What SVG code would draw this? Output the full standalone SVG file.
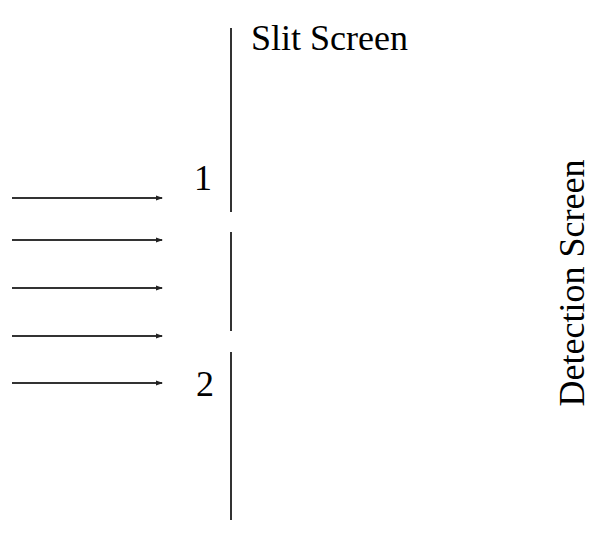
<svg xmlns="http://www.w3.org/2000/svg" width="602" height="533" viewBox="0 0 602 533" font-family="Liberation Serif, DejaVu Serif, serif">
<style>
text{font-family:"Liberation Serif","DejaVu Serif",serif;font-size:36px;fill:#000}
.ln{stroke:#333;stroke-width:2;fill:none}
</style>
<defs>
<marker id="ah" markerWidth="7" markerHeight="6" refX="6" refY="3" orient="auto" markerUnits="userSpaceOnUse">
<path d="M0,0.5 L7,3 L0,5.5 Z" fill="#222"/>
</marker>
</defs>
<rect width="602" height="533" fill="#fff"/>
<g id="slit-screen">
<line class="ln" x1="231" y1="28" x2="231" y2="212"/>
<line class="ln" x1="231" y1="232" x2="231" y2="331"/>
<line class="ln" x1="231" y1="352" x2="231" y2="520"/>
<text x="251" y="50" font-family="Liberation Serif, serif">Slit Screen</text>
</g>
<g id="slit-1"><text x="194" y="190" font-family="Liberation Serif, serif">1</text></g>
<g id="slit-2"><text x="196" y="396" font-family="Liberation Serif, serif">2</text></g>
<g id="detection-screen">
<text text-anchor="middle" transform="translate(584,283) rotate(-90)" font-family="Liberation Serif, serif">Detection Screen</text>
</g>
<g id="connectors">
<line class="ln" x1="12" y1="198" x2="162" y2="198" marker-end="url(#ah)"/>
<line class="ln" x1="12" y1="240" x2="162" y2="240" marker-end="url(#ah)"/>
<line class="ln" x1="12" y1="288" x2="162" y2="288" marker-end="url(#ah)"/>
<line class="ln" x1="12" y1="336" x2="162" y2="336" marker-end="url(#ah)"/>
<line class="ln" x1="12" y1="383" x2="162" y2="383" marker-end="url(#ah)"/>
</g>
</svg>
